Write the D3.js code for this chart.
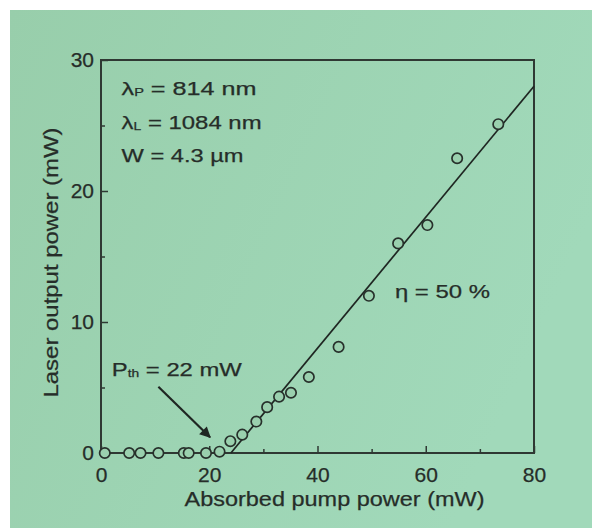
<!DOCTYPE html>
<html>
<head>
<meta charset="utf-8">
<script src="https://cdn.jsdelivr.net/npm/d3@7"></script>
<style>
  body { margin: 0; background: #fff; }
  text { font-family: "Liberation Sans", Arial, sans-serif; fill: #262d29; stroke: #262d29; stroke-width: 0.25px; }
</style>
</head>
<body>
<svg id="chart" width="592" height="528"></svg>
<script>
// measured points (absorbed pump power, laser output power), both mW
let pumpPower   = [0.7, 5.2, 7.3, 10.6, 15.3, 16.2, 19.4, 21.9, 23.9, 26.1, 28.7, 30.7, 32.9, 35.1, 38.4, 43.9, 49.5, 54.9, 60.3, 65.8, 73.4];
let outputPower = [0,   0,   0,   0,    0,    0,    0,    0.1,  0.9,  1.4,  2.4,  3.5,  4.3,  4.6,  5.8,  8.1,  12.0, 16.0, 17.4, 22.5, 25.1];

// linear fit, slope efficiency 50 %
let fitX = [24, 80];
let fitY = [0, 28];

let xTicks = [0, 20, 40, 60, 80];
let xMinor = [10, 30, 50, 70];
let yTicks = [0, 10, 20, 30];
let yMinor = [5, 15, 25];

let width = 592, height = 528;
let margin = { left: 101, right: 58, top: 60, bottom: 75 };
let green = "#9ad0ae";
let ink = "#2f3833";

let svg = d3.select("#chart");

let defs = svg.append("defs");
let grad = defs.append("linearGradient").attr("id", "bg").attr("x1", "0").attr("x2", "1").attr("y1", "0").attr("y2", "0.4");
grad.append("stop").attr("offset", "0").attr("stop-color", "#98ceab");
grad.append("stop").attr("offset", "1").attr("stop-color", "#a1d9ba");

// scanned page background (white strip on top and left)
svg.append("rect").attr("x", 10).attr("y", 10).attr("width", width - 10).attr("height", height - 10).attr("fill", "url(#bg)");

let x = d3.scaleLinear().domain([0, 80]).range([margin.left, width - margin.right]);
let y = d3.scaleLinear().domain([0, 30]).range([height - margin.bottom, margin.top]);

// axes, ticks pointing inward
svg.append("g")
    .attr("transform", "translate(0," + y(0) + ")")
    .call(d3.axisBottom(x).tickValues(xTicks).tickSize(-7).tickPadding(14));
svg.append("g")
    .attr("transform", "translate(0," + y(0) + ")")
    .call(d3.axisBottom(x).tickValues(xMinor).tickSize(-4).tickFormat(""));

svg.append("g")
    .attr("transform", "translate(" + x(0) + ",0)")
    .call(d3.axisLeft(y).tickValues(yTicks).tickSize(-7).tickPadding(7));
svg.append("g")
    .attr("transform", "translate(" + x(0) + ",0)")
    .call(d3.axisLeft(y).tickValues(yMinor).tickSize(-4).tickFormat(""));

svg.selectAll(".domain").remove();
svg.selectAll(".tick line").attr("stroke", ink).attr("stroke-width", 1.5);
svg.selectAll(".tick text")
    .style("font-family", "'Liberation Sans', Arial, sans-serif")
    .style("font-size", "21px")
    .attr("fill", "#262d29");

// frame
svg.append("rect")
    .attr("x", x(0)).attr("y", y(30))
    .attr("width", x(80) - x(0)).attr("height", y(0) - y(30))
    .attr("fill", "none").attr("stroke", ink).attr("stroke-width", 2);

// fit line
svg.append("path")
    .datum(d3.zip(fitX, fitY))
    .attr("d", d3.line().x(d => x(d[0])).y(d => y(d[1])))
    .attr("fill", "none").attr("stroke", "#1f2622").attr("stroke-width", 1.7);

// data points
svg.selectAll(".pt").data(d3.zip(pumpPower, outputPower)).enter()
    .append("circle")
    .attr("class", "pt")
    .attr("cx", d => x(d[0]))
    .attr("cy", d => y(d[1]))
    .attr("r", 5.2)
    .attr("fill", green)
    .attr("stroke", "#27302b")
    .attr("stroke-width", 1.7);

// axis titles
svg.append("text")
    .attr("x", (x(0) + x(80)) / 2 + 17)
    .attr("y", 506)
    .attr("text-anchor", "middle")
    .attr("font-size", 21)
    .attr("textLength", 300).attr("lengthAdjust", "spacingAndGlyphs")
    .text("Absorbed pump power (mW)");

svg.append("text")
    .attr("transform", "translate(58," + ((y(0) + y(30)) / 2 + 6) + ") rotate(-90)")
    .attr("text-anchor", "middle")
    .attr("font-size", 21)
    .attr("textLength", 270).attr("lengthAdjust", "spacingAndGlyphs")
    .text("Laser output power (mW)");

// annotations (positions in data units)
function label(xv, yv, len, parts) {
    let t = svg.append("text")
        .attr("x", x(xv)).attr("y", y(yv))
        .attr("font-size", 19)
        .attr("textLength", len).attr("lengthAdjust", "spacingAndGlyphs");
    parts.forEach(p => {
        let s = t.append("tspan").text(p.t);
        if (p.sub) s.attr("font-size", 11).attr("dy", 1);
        if (p.up) s.attr("dy", -1);
    });
}

label(3.8, 27.35, 135, [{ t: "λ" }, { t: "P", sub: true }, { t: " = 814 nm", up: true }]);
label(3.8, 24.7, 140, [{ t: "λ" }, { t: "L", sub: true }, { t: " = 1084 nm", up: true }]);
label(3.8, 22.25, 122, [{ t: "W = 4.3 µm" }]);
label(2.0, 5.85, 130, [{ t: "P" }, { t: "th", sub: true }, { t: " = 22 mW", up: true }]);
label(54.3, 11.85, 95, [{ t: "η = 50 %" }]);

// threshold arrow
let arrowFrom = [10.6, 5.06];
let arrowTo = [20.15, 1.2];
defs.append("marker")
    .attr("id", "head")
    .attr("viewBox", "0 0 10 10")
    .attr("refX", 9).attr("refY", 5)
    .attr("markerWidth", 7).attr("markerHeight", 5)
    .attr("markerUnits", "strokeWidth")
    .attr("orient", "auto")
    .append("path").attr("d", "M0,0L10,5L0,10z").attr("fill", "#1f2622");

svg.append("line")
    .attr("x1", x(arrowFrom[0])).attr("y1", y(arrowFrom[1]))
    .attr("x2", x(arrowTo[0])).attr("y2", y(arrowTo[1]))
    .attr("stroke", "#1f2622").attr("stroke-width", 2.2)
    .attr("marker-end", "url(#head)");
</script>
</body>
</html>
